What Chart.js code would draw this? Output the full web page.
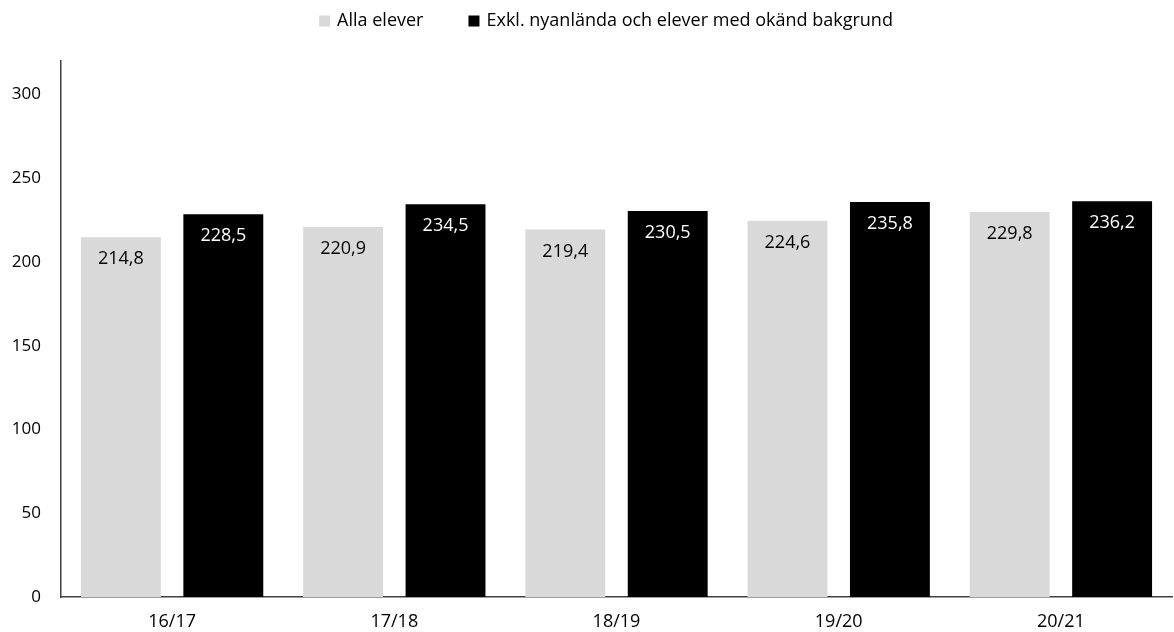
<!DOCTYPE html>
<html>
<head>
<meta charset="utf-8">
<script src="https://cdn.jsdelivr.net/npm/chart.js@4"></script>
<style>
  html, body { margin: 0; padding: 0; background: #fff; }
  #wrap { width: 1174px; height: 632px; }
</style>
</head>
<body>
<div id="wrap"><canvas id="chart"></canvas></div>
<script>
// Läsår och värden
const categories = ['16/17', '17/18', '18/19', '19/20', '20/21'];
const allaElever = [214.8, 220.9, 219.4, 224.6, 229.8];
const exklNyanlanda = [228.5, 234.5, 230.5, 235.8, 236.2];
const yTicks = [0, 50, 100, 150, 200, 250, 300];

const fontFamily = '"Open Sans", sans-serif';

// Etiketter inuti staplarna, nära toppen
const barLabels = {
  id: 'barLabels',
  afterDatasetsDraw(chart) {
    const ctx = chart.ctx;
    ctx.save();
    ctx.font = '18px ' + fontFamily;
    ctx.textAlign = 'center';
    ctx.textBaseline = 'middle';
    chart.data.datasets.forEach((ds, i) => {
      chart.getDatasetMeta(i).data.forEach((bar, j) => {
        ctx.fillStyle = i === 0 ? '#000' : '#fff';
        ctx.fillText(ds.data[j].toFixed(1).replace('.', ','), bar.x, bar.y + 22);
      });
    });
    ctx.restore();
  }
};

// Egen förklaring överst (bredare mellanrum än Chart.js standard)
const topLegend = {
  id: 'topLegend',
  afterDraw(chart) {
    const ctx = chart.ctx;
    const box = 11, textGap = 7, itemGap = 45, y = 21;
    ctx.save();
    ctx.font = '18px ' + fontFamily;
    ctx.textBaseline = 'middle';
    const items = chart.data.datasets.map(ds => ({
      label: ds.label, color: ds.backgroundColor, w: ctx.measureText(ds.label).width
    }));
    const total = items.reduce((s, it) => s + box + textGap + it.w, 0) + itemGap * (items.length - 1);
    let x = 606 - total / 2;
    items.forEach(it => {
      ctx.fillStyle = it.color;
      ctx.fillRect(x, y - box / 2, box, box);
      x += box + textGap;
      ctx.fillStyle = '#000';
      ctx.fillText(it.label, x, y);
      x += it.w + itemGap;
    });
    ctx.restore();
  }
};

new Chart(document.getElementById('chart'), {
  type: 'bar',
  data: {
    labels: categories,
    datasets: [
      { label: 'Alla elever', data: allaElever, backgroundColor: '#d9d9d9' },
      { label: 'Exkl. nyanlända och elever med okänd bakgrund', data: exklNyanlanda, backgroundColor: '#000000' }
    ]
  },
  options: {
    responsive: true,
    maintainAspectRatio: false,
    animation: false,
    categoryPercentage: 0.922,
    barPercentage: 0.78,
    layout: { padding: { left: 0, right: 2, top: 61, bottom: 0 } },
    plugins: {
      legend: { display: false },
      tooltip: { enabled: false }
    },
    scales: {
      x: {
        afterFit(axis) { axis.height = 35; },
        grid: { display: false, drawTicks: false },
        border: { color: '#404040', width: 1.5 },
        ticks: { color: '#000', padding: 14, font: { family: fontFamily, size: 18 } }
      },
      y: {
        min: 0,
        max: 320,
        afterBuildTicks(axis) {
          axis.ticks = yTicks.map(v => ({ value: v }));
        },
        afterFit(axis) { axis.width = 61; },
        grid: { display: false, drawTicks: false },
        border: { color: '#404040', width: 1.5 },
        ticks: { color: '#000', padding: 20, font: { family: fontFamily, size: 17 } }
      }
    }
  },
  plugins: [barLabels, topLegend]
});
</script>
</body>
</html>
